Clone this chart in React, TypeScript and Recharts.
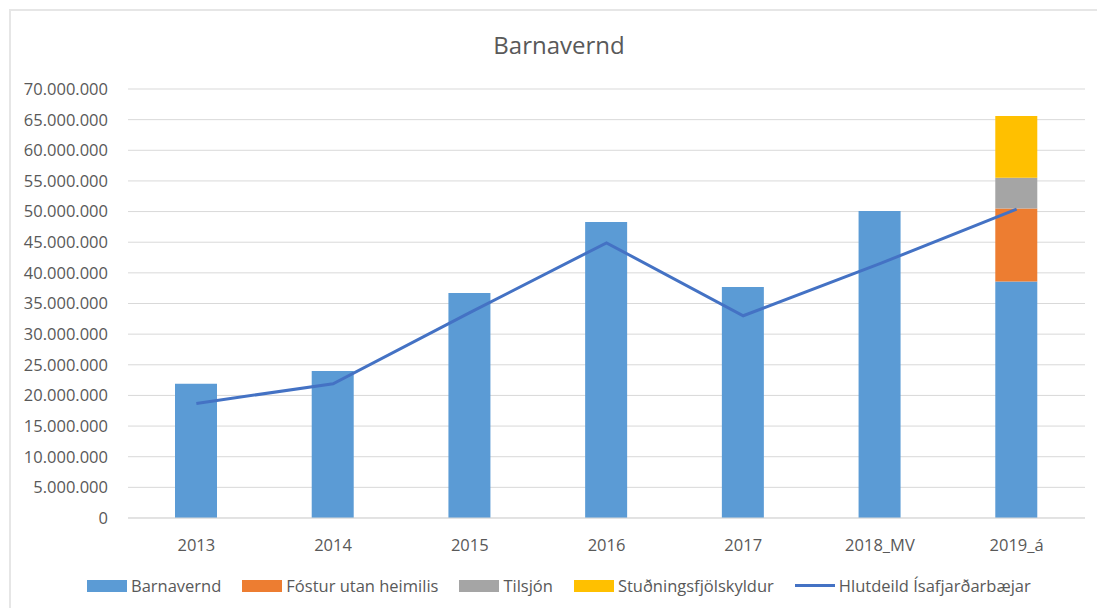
import React from 'react';
import {
  ComposedChart,
  Bar,
  Line,
  XAxis,
  YAxis,
  CartesianGrid,
} from 'recharts';

const years = ['2013', '2014', '2015', '2016', '2017', '2018_MV', '2019_á'];
const barnavernd = [21900000, 24000000, 36700000, 48300000, 37700000, 50100000, 38600000];
const fostur = [0, 0, 0, 0, 0, 0, 11900000];
const tilsjon = [0, 0, 0, 0, 0, 0, 5000000];
const studnings = [0, 0, 0, 0, 0, 0, 10100000];
const hlutdeild = [18700000, 21900000, 33500000, 44900000, 33000000, 41500000, 50400000];
const yTicks = [0, 5000000, 10000000, 15000000, 20000000, 25000000, 30000000, 35000000, 40000000, 45000000, 50000000, 55000000, 60000000, 65000000, 70000000];

const data = years.map((year, i) => ({
  year,
  barnavernd: barnavernd[i],
  fostur: fostur[i],
  tilsjon: tilsjon[i],
  studnings: studnings[i],
  hlutdeild: hlutdeild[i],
}));

const FONT = '"Open Sans", sans-serif';
const TEXT = '#595959';

const fmt = (v: number) => String(v).replace(/\B(?=(\d{3})+(?!\d))/g, '.');

const legendItems = [
  { name: 'Barnavernd', color: '#5B9BD5', line: false },
  { name: 'Fóstur utan heimilis', color: '#ED7D31', line: false },
  { name: 'Tilsjón', color: '#A5A5A5', line: false },
  { name: 'Stuðningsfjölskyldur', color: '#FFC000', line: false },
  { name: 'Hlutdeild Ísafjarðarbæjar', color: '#4472C4', line: true },
];

const ChartLegend = () => (
  <div style={{ position: 'absolute', left: 87, top: 574, display: 'flex', alignItems: 'center', fontFamily: FONT, fontSize: 16.5, color: TEXT, whiteSpace: 'nowrap' }}>
    {legendItems.map((it) => (
      <div key={it.name} style={{ display: 'flex', alignItems: 'center', marginRight: 21 }}>
        <div style={{ width: 40, height: it.line ? 3 : 12, background: it.color, marginRight: 4 }} />
        <span>{it.name}</span>
      </div>
    ))}
  </div>
);

export default function App() {
  return (
    <div style={{ position: 'absolute', left: 0, top: 0, width: 1097, height: 608, background: '#fff', overflow: 'hidden' }}>
      <div style={{ position: 'absolute', left: 9, top: 9, width: 1100, height: 620, border: '2px solid #e6e6e6', boxSizing: 'border-box' }} />
      <div style={{ position: 'absolute', left: 0, top: 28, width: 1118, textAlign: 'center', fontFamily: FONT, fontSize: 24, color: TEXT }}>
        Barnavernd
      </div>
      <ComposedChart
        width={1097}
        height={608}
        data={data}
        margin={{ top: 89, right: 12, bottom: 50, left: 0 }}
      >
        <CartesianGrid vertical={false} stroke="#d9d9d9" strokeWidth={1} />
        <XAxis
          dataKey="year"
          height={40}
          tickLine={false}
          axisLine={{ stroke: '#d9d9d9' }}
          tick={{ fill: TEXT, fontSize: 16.5, fontFamily: FONT }}
          tickMargin={15}
        />
        <YAxis
          width={128}
          domain={[0, 70000000]}
          ticks={yTicks}
          interval={0}
          tickFormatter={fmt}
          tickLine={false}
          axisLine={false}
          tick={{ fill: TEXT, fontSize: 16.5, fontFamily: FONT }}
          tickMargin={14}
        />
        <Bar dataKey="barnavernd" name="Barnavernd" stackId="a" fill="#5B9BD5" barSize={42} isAnimationActive={false} />
        <Bar dataKey="fostur" name="Fóstur utan heimilis" stackId="a" fill="#ED7D31" barSize={42} isAnimationActive={false} />
        <Bar dataKey="tilsjon" name="Tilsjón" stackId="a" fill="#A5A5A5" barSize={42} isAnimationActive={false} />
        <Bar dataKey="studnings" name="Stuðningsfjölskyldur" stackId="a" fill="#FFC000" barSize={42} isAnimationActive={false} />
        <Line
          type="linear"
          dataKey="hlutdeild"
          name="Hlutdeild Ísafjarðarbæjar"
          stroke="#4472C4"
          strokeWidth={3}
          dot={false}
          activeDot={false}
          isAnimationActive={false}
        />
      </ComposedChart>
      <ChartLegend />
    </div>
  );
}
